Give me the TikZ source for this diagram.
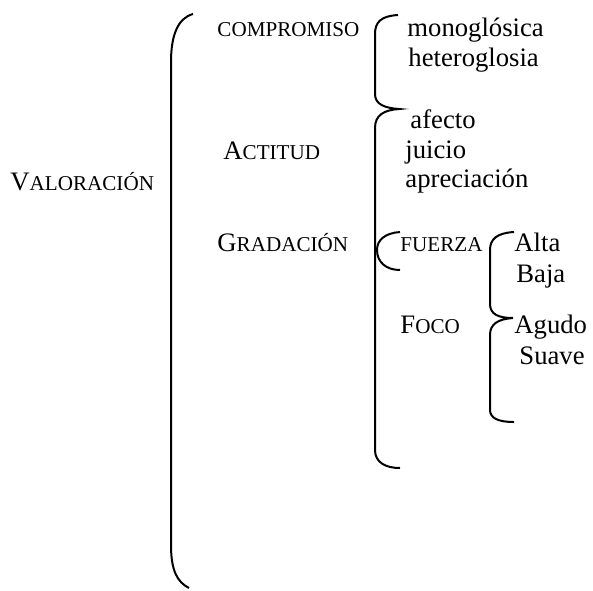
\documentclass[tikz,border=0pt]{standalone}
\usepackage{fontspec}
\setmainfont{Liberation Serif}
\newcommand\smc[2]{#1{\fontsize{9.5}{11}\selectfont #2}}

\begin{document}
\begin{tikzpicture}[x=0.45pt, y=-0.45pt,
    txt/.style={anchor=base west, inner sep=0pt, font=\fontsize{12}{14}\selectfont},
    brk/.style={line width=0.9pt}]
    \useasboundingbox (0,0) rectangle (593,590);
    % Main bracket
    \draw[brk] (193,14) .. controls (178,18) and (171,35) .. (171,62)
      -- (171,545) .. controls (171,570) and (177,582) .. (189,588);
    % Left column
    \node[txt] (valoracion) at (10,190) {\smc{V}{ALORACIÓN}};
    \node[txt] (compromiso) at (217,36) {\smc{}{COMPROMISO}};
    \node[txt] (actitud) at (223,159) {\smc{A}{CTITUD}};
    \node[txt] (gradacion) at (217,251) {\smc{G}{RADACIÓN}};
    % Second brackets
    \draw[brk] (398,15) .. controls (381,16) and (375,22) .. (375,34)
      -- (375,94) .. controls (375,104) and (384,108) .. (399,109)
      .. controls (384,110) and (375,115) .. (375,128)
      -- (375,450) .. controls (375,462) and (385,468) .. (400,468);
    % Compromiso
    \node[txt] (mono) at (407,36) {monoglósica};
    \node[txt] (hetero) at (408,66) {heteroglosia};
    % Actitud
    \node[txt] (afecto) at (410,128) {afecto};
    \node[txt] (juicio) at (405,158) {juicio};
    \node[txt] (aprec) at (405,187) {apreciación};
    % Gradacion
    \draw[brk] (400,232) .. controls (385,233) and (377,240) .. (377,250)
      .. controls (377,262) and (386,270) .. (400,270);
    \node[txt] (fuerza) at (400,251) {\smc{}{FUERZA}};
    \node[txt] (foco) at (400,333) {\smc{F}{OCO}};
    % Third bracket
    \draw[brk] (514,232) .. controls (497,233) and (490,239) .. (490,250)
      -- (490,304) .. controls (490,314) and (498,318) .. (513,318)
      .. controls (498,319) and (490,324) .. (490,335)
      -- (490,410) .. controls (490,418) and (498,422) .. (514,422);
    \node[txt] (alta) at (514,251) {Alta};
    \node[txt] (baja) at (516,282) {Baja};
    \node[txt] (agudo) at (514,333) {Agudo};
    \node[txt] (suave) at (519,364) {Suave};
\end{tikzpicture}
\end{document}
